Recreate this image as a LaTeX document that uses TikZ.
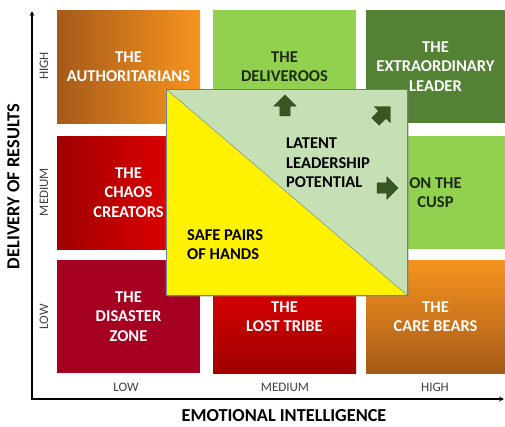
\documentclass[tikz,border=0pt]{standalone}
\usepackage{fontspec}
\setmainfont{Carlito}
\usepackage{xcolor}
\usepackage{tikz}
\usetikzlibrary{shapes,arrows,positioning,calc,shadows}

\definecolor{brownorange}{RGB}{166,90,25}
\definecolor{brightorange}{RGB}{247,148,30}
\definecolor{darkred}{RGB}{160,0,0}
\definecolor{brightred}{RGB}{235,0,0}
\definecolor{crimson}{RGB}{165,0,33}
\definecolor{lightgreen}{RGB}{146,208,80}
\definecolor{darkgreen}{RGB}{84,130,53}
\definecolor{paleqreen}{RGB}{197,224,180}
\definecolor{arrowgreen}{RGB}{56,87,35}
\definecolor{darktext}{RGB}{30,42,22}
\definecolor{edgeblue}{RGB}{100,128,148}
\definecolor{ticktext}{RGB}{64,64,64}

\newcommand{\quadfont}{\fontsize{16.5}{19.5}\selectfont\bfseries}

\begin{document}
\begin{tikzpicture}[x=1pt, y=-1pt,
    box/.style={rectangle, minimum width=143pt, minimum height=113pt, align=center, text=white, inner sep=0pt, font=\quadfont},
    edgebox/.style={box, minimum width=139pt},
    potential/.style={rectangle, draw=edgeblue, fill=paleqreen, minimum width=241pt, minimum height=206pt, inner sep=0pt, drop shadow={opacity=0.35, shadow xshift=1.5pt, shadow yshift=-1.5pt}},
    label/.style={align=left, anchor=west, inner sep=0pt, font=\quadfont},
    blockarrow/.style={single arrow, fill=arrowgreen, draw=arrowgreen!70!black, minimum height=21pt, inner sep=5pt, single arrow head extend=6pt},
    tick/.style={text=ticktext, inner sep=0pt, font=\fontsize{13}{15}\selectfont},
    title/.style={inner sep=0pt, font=\fontsize{18.3}{20}\selectfont\bfseries},
    axis/.style={<->, >=stealth, line width=1.2pt}]

\useasboundingbox (0,0) rectangle (505,426);

% Top row (high delivery)
\node[box, left color=brownorange, right color=brightorange] (authoritarians) at (128.5,66.5) {THE\\AUTHORITARIANS};
\node[box, fill=lightgreen, text=darktext] (deliveroos) at (284.5,66.5) {THE\\DELIVEROOS};
\node[edgebox, fill=darkgreen] (extraordinary) at (435.5,66.5) {THE\\EXTRAORDINARY\\LEADER};

% Middle row (medium delivery)
\node[box, left color=darkred, right color=brightred] (chaos) at (128.5,192.5) {THE\\CHAOS\\CREATORS};
\node[edgebox, fill=lightgreen, text=darktext] (cusp) at (435.5,192.5) {ON THE\\CUSP};

% Bottom row (low delivery)
\node[box, fill=crimson] (disaster) at (128.5,316.5) {THE\\DISASTER\\ZONE};
\node[box, top color=brightred, bottom color=darkred] (losttribe) at (284.5,316.5) {THE\\LOST TRIBE};
\node[edgebox, top color=brightorange, bottom color=brownorange] (carebears) at (435.5,316.5) {THE\\CARE BEARS};

% Overlay square split on the diagonal
\node[potential] (latent) at (286.5,192) {};
\fill[yellow] (latent.north west) -- (latent.south east) -- (latent.south west) -- cycle;
\draw[edgeblue] (latent.north west) -- (latent.south east);
\draw[edgeblue] (latent.north west) rectangle (latent.south east);

\node[label] (latent_text) at (286,163) {LATENT\\LEADERSHIP\\POTENTIAL};
\node[label] (safe_text) at (187,244.5) {SAFE PAIRS\\OF HANDS};

% Block arrows
\node[blockarrow, rotate=90] (up_arrow) at (285,108) {};
\node[blockarrow, rotate=45] (diag_arrow) at (381,116) {};
\node[blockarrow] (right_arrow) at (385,188) {};

% Axes
\coordinate (origin) at (32,399);
\coordinate (ytop) at (32,11);
\coordinate (xend) at (504,399);
\draw[axis] (ytop) -- (origin) -- (xend);

\node[tick, rotate=90] (y_high) at (44,66) {HIGH};
\node[tick, rotate=90] (y_medium) at (44,192) {MEDIUM};
\node[tick, rotate=90] (y_low) at (44,317) {LOW};
\node[tick] (x_low) at (126,387) {LOW};
\node[tick] (x_medium) at (285,387) {MEDIUM};
\node[tick] (x_high) at (435,387) {HIGH};

\node[title] (x_title) at (284,416) {EMOTIONAL INTELLIGENCE};
\node[title, rotate=90] (y_title) at (13.5,186.5) {DELIVERY OF RESULTS};

\end{tikzpicture}
\end{document}
